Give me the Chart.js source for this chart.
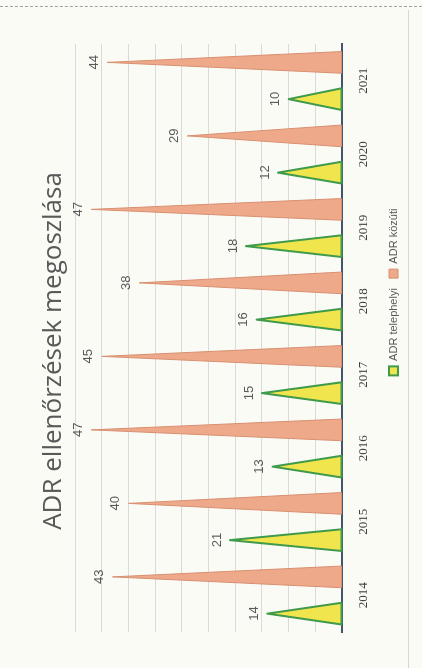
<!DOCTYPE html>
<html>
<head>
<meta charset="utf-8">
<script src="https://cdn.jsdelivr.net/npm/chart.js@4"></script>
<style>
  html, body { margin: 0; padding: 0; }
  body { width: 422px; height: 668px; overflow: hidden; background: #fbfbf6; position: relative; }
  .edge-top { position: absolute; left: 0; top: 6px; width: 422px; border-top: 1.5px dashed #a0a0a0; }
  .edge-right { position: absolute; left: 408px; top: 10px; width: 0; height: 658px; border-left: 1px solid #d6d6d2; }
  .wrap {
    position: absolute; left: 0; top: 0; width: 668px; height: 422px;
    transform-origin: 0 0; transform: translate(0, 668px) rotate(-90deg);
  }
</style>
</head>
<body>
<div class="edge-top"></div>
<div class="edge-right"></div>
<div class="wrap"><canvas id="chart" width="668" height="422"></canvas></div>
<script>
const years = ['2014', '2015', '2016', '2017', '2018', '2019', '2020', '2021'];
const telephelyi = [14, 21, 13, 15, 16, 18, 12, 10];
const kozuti = [43, 40, 47, 45, 38, 47, 29, 44];

// bars are drawn as cones (triangles) from the bar element geometry
const conePlugin = {
  id: 'cones',
  beforeDatasetDraw(chart, args) {
    const ctx = chart.ctx;
    const ds = chart.data.datasets[args.index];
    ctx.save();
    args.meta.data.forEach(bar => {
      const { x, y, base, width } = bar.getProps(['x', 'y', 'base', 'width'], true);
      ctx.beginPath();
      ctx.moveTo(x - width / 2, base);
      ctx.lineTo(x, y);
      ctx.lineTo(x + width / 2, base);
      ctx.closePath();
      ctx.fillStyle = ds.backgroundColor;
      ctx.fill();
      ctx.lineWidth = ds.borderWidth;
      ctx.strokeStyle = ds.borderColor;
      ctx.lineJoin = 'round';
      ctx.stroke();
    });
    ctx.restore();
    return false;
  },
  afterDatasetsDraw(chart) {
    const ctx = chart.ctx;
    ctx.save();
    ctx.font = '13px "Liberation Sans"';
    ctx.fillStyle = '#5a5a5a';
    ctx.textAlign = 'center';
    ctx.textBaseline = 'middle';
    chart.data.datasets.forEach((ds, i) => {
      chart.getDatasetMeta(i).data.forEach((bar, j) => {
        ctx.fillText(String(ds.data[j]), bar.x, bar.y - 13);
      });
    });
    ctx.restore();
  },
  afterLayout(chart) {
    // title and legend are not centred on the page in the original
    const t = chart.titleBlock, l = chart.legend;
    t.left -= 13; t.right -= 13;
    l.left += 46; l.right += 46;
  }
};

new Chart(document.getElementById('chart'), {
  type: 'bar',
  data: {
    labels: years,
    datasets: [
      {
        label: 'ADR telephelyi',
        data: telephelyi,
        backgroundColor: '#f0e54c',
        borderColor: '#3f9a4c',
        borderWidth: 2
      },
      {
        label: 'ADR közúti',
        data: kozuti,
        backgroundColor: '#eea98b',
        borderColor: '#d88f70',
        borderWidth: 1
      }
    ]
  },
  options: {
    responsive: false,
    animation: false,
    layout: { padding: { left: 36, right: 44, top: 0, bottom: 13 } },
    datasets: { bar: { categoryPercentage: 1, barPercentage: 0.59 } },
    plugins: {
      tooltip: { enabled: false },
      title: {
        display: true,
        text: 'ADR ellenőrzések megoszlása',
        color: '#595959',
        font: { family: '"Open Sans"', size: 26, weight: '400' },
        padding: { top: 38, bottom: 6 }
      },
      legend: {
        position: 'bottom',
        labels: {
          boxWidth: 9,
          boxHeight: 9,
          padding: 10,
          color: '#595959',
          font: { family: '"Liberation Sans"', size: 11 }
        }
      }
    },
    scales: {
      x: {
        grid: { display: false, drawTicks: false },
        border: { display: true, color: '#44546a', width: 2 },
        ticks: { color: '#404040', padding: 14, font: { family: '"Liberation Serif"', size: 13 } },
        afterFit(scale) { scale.height = 36; }
      },
      y: {
        min: 0,
        max: 50,
        ticks: { display: false, stepSize: 5 },
        grid: { color: '#dadada', lineWidth: 1, drawTicks: false },
        border: { display: false }
      }
    }
  },
  plugins: [conePlugin]
});
</script>
</body>
</html>
